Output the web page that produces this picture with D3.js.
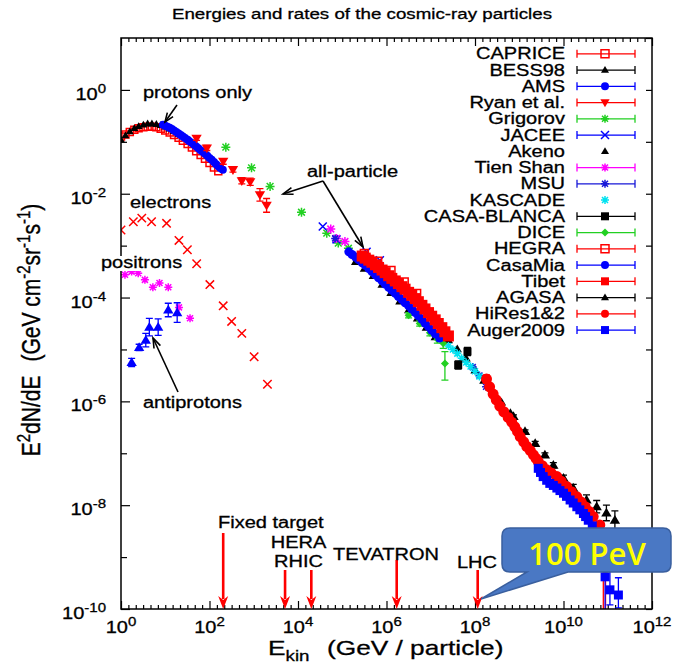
<!DOCTYPE html>
<meta charset="utf-8">
<style>
body { margin: 0; background: #fff; }
svg { display: block; }
text { font-family: "Liberation Sans", Arial, Helvetica, sans-serif; fill: #000; stroke: #000; stroke-width: 0.3px; }
</style>
<svg width="673" height="664"></svg>
<script src="https://d3js.org/d3.v7.min.js"></script>
<script>
// values: [E (GeV), E^2 dN/dE] , optional [.., low, high] for error bars

// protons
var caprice = [[1,0.126],[1.26,0.138],[1.58,0.155],[2,0.17],[2.5,0.182],[3.2,0.19],[4,0.195],[5,0.195],
  [6.3,0.19],[7.9,0.178],[10,0.166],[12.6,0.151],[15.8,0.135],[20,0.12],[25,0.105],[32,0.091],[40,0.078],
  [50,0.066],[63,0.056],[79,0.047],[100,0.039],[126,0.032],[158,0.027]];
var bess98 = [[1,0.11],[1.26,0.132],[1.58,0.158],[2,0.182],[2.5,0.2],[3.2,0.214],[4,0.224],[5,0.224],
  [6.3,0.219],[7.9,0.209],[10,0.195],[12.6,0.178],[15.8,0.16],[20,0.142]];
var ams = [[8.9,0.214],[10,0.204],[11.2,0.195],[12.6,0.186],[14.1,0.176],[15.8,0.166],[17.8,0.155],[20,0.145],
  [22.4,0.135],[25,0.126],[28,0.118],[32,0.11],[35,0.102],[40,0.095],[45,0.088],[50,0.081],[56,0.075],
  [63,0.069],[71,0.064],[79,0.059],[89,0.054],[100,0.049],[112,0.045],[126,0.041],[141,0.037],[158,0.034],
  [178,0.031],[200,0.029]];
var ryan = [[51,0.117,0.107,0.128],[87,0.076,0.068,0.085],[204,0.042,0.037,0.047],[339,0.029,0.026,0.033],
  [537,0.0178,0.0155,0.0204],[832,0.017,0.0145,0.020],[1380,0.0095,0.0072,0.0125],[1950,0.006,0.0044,0.0081]];

// all-particle
var grigorov = [[234,0.079],[891,0.0316],[2340,0.0138],[12000,0.0044],[44700,0.00174],[81300,0.00112],[138000,0.00089]];
var jacee = [[36300,0.00234],[74100,0.00132],[355000,0.00076],[708000,0.000525]];
var akeno = [[2e5,4.9e-4],[3.16e5,3.63e-4],[5.01e5,2.63e-4],[7.94e5,1.78e-4],[1.26e6,1.23e-4],[2e6,8.51e-5],
  [3.16e6,5.75e-5],[5.01e6,3.98e-5],[7.94e6,2.63e-5],[1.26e7,1.74e-5],
  [2.51e7,1.51e-5],[3.98e7,1.02e-5],[6.31e7,6.76e-6],[1e8,3.98e-6],[1.58e8,2.51e-6],
  [2.51e8,1.58e-6],[3.98e8,9.55e-7],[6.31e8,6.03e-7]];
var tienShan = [[55000,0.00209],[74100,0.00138],[115000,0.0012]];
var msu = [[69200,0.00138],[8.9e7,4.57e-6],[1.26e8,3.16e-6],[1.78e8,1.91e-6]];
var kascade = [[2.51e7,1.17e-5],[3.16e7,1e-5],[3.98e7,8.32e-6],[5.01e7,6.76e-6],[6.31e7,5.62e-6],
  [7.94e7,4.68e-6],[1e8,3.8e-6],[1.26e8,3.02e-6]];
var casaBlanca = [[4.17e7,5.01e-6,4.17e-6,6.03e-6],[6.76e7,9.12e-6,7.59e-6,1.1e-5]];
var dice = [[3.16e6,4.57e-5,4.07e-5,5.13e-5],[5.62e6,3.16e-5,2.82e-5,3.55e-5],[9.55e6,2.09e-5,1.82e-5,2.4e-5],
  [1.41e7,1.58e-5,1.32e-5,1.9e-5],[1.91e7,1.32e-5,1.05e-5,1.66e-5],[2.09e7,5.37e-6,2.57e-6,9.12e-6]];
var hegra = [[3.16e5,7.08e-4],[6.31e5,5.01e-4],[1.26e6,3.31e-4],[2.51e6,2.0e-4],[4.79e6,1.2e-4]];
var casaMia = [[1.41e5,7.59e-4],[1.66e5,6.76e-4],[2.0e5,6.03e-4],[2.34e5,5.37e-4],[2.82e5,4.68e-4],[3.31e5,4.17e-4],
  [3.98e5,3.63e-4],[4.68e5,3.16e-4],[5.62e5,2.75e-4],[6.61e5,2.4e-4],[7.94e5,2.09e-4],[9.33e5,1.82e-4],
  [1.12e6,1.58e-4],[1.32e6,1.38e-4],[1.58e6,1.2e-4],[1.86e6,1.05e-4],[2.24e6,9.12e-5],[2.63e6,7.94e-5],
  [3.16e6,6.92e-5],[3.72e6,6.03e-5],[4.47e6,5.13e-5],[5.25e6,4.47e-5],[6.31e6,3.8e-5],[7.41e6,3.24e-5],
  [8.91e6,2.75e-5],[1.05e7,2.34e-5],[1.26e7,2.0e-5],[1.58e7,1.66e-5]];
var tibet = [[2.82e5,6.31e-4],[3.31e5,5.75e-4],[3.98e5,5.25e-4],[4.68e5,4.79e-4],[5.62e5,4.27e-4],[6.61e5,3.8e-4],
  [7.94e5,3.39e-4],[9.33e5,3.02e-4],[1.12e6,2.63e-4],[1.32e6,2.34e-4],[1.58e6,2.09e-4],[1.86e6,1.86e-4],
  [2.24e6,1.62e-4],[2.63e6,1.45e-4],[3.16e6,1.26e-4],[3.72e6,1.1e-4],[4.47e6,9.55e-5],[5.25e6,8.32e-5],
  [6.31e6,7.08e-5],[7.41e6,6.03e-5],[8.91e6,5.13e-5],[1.05e7,4.37e-5],[1.26e7,3.72e-5],[1.48e7,3.16e-5],
  [1.78e7,2.63e-5],[2.09e7,2.19e-5],[2.51e7,1.82e-5]];
var agasa = [[7.41e8,5.13e-7,4.79e-7,5.5e-7],[1.35e9,2.63e-7,2.45e-7,2.82e-7],[2.29e9,1.55e-7,1.41e-7,1.7e-7],
  [3.8e9,9.33e-8,8.51e-8,1.02e-7],[5.89e9,5.89e-8,5.25e-8,6.61e-8],[1e10,3.31e-8,2.88e-8,3.8e-8],
  [1.66e10,2.14e-8,1.82e-8,2.51e-8],[3.31e10,1.26e-8,1e-8,1.58e-8],[5.62e10,9.33e-9,7.08e-9,1.23e-8],
  [9.33e10,7.08e-9,5.01e-9,1e-8],[1.45e11,5.13e-9,3.39e-9,7.76e-9]];
var hires = [[1.82e8,2.69e-6,2.24e-6,3.24e-6],[2.14e8,1.91e-6],[2.57e8,1.38e-6],[3.02e8,1.07e-6],[3.63e8,8.13e-7],
  [4.47e8,6.31e-7],[5.62e8,4.9e-7],[6.76e8,3.98e-7],[7.94e8,3.24e-7],[9.12e8,2.63e-7],[1.05e9,2.09e-7],
  [1.26e9,1.66e-7],[1.48e9,1.35e-7],[1.78e9,1.12e-7],[2.09e9,9.33e-8],[2.4e9,7.94e-8],[2.69e9,6.92e-8],
  [3.31e9,5.75e-8],[4.17e9,4.79e-8],[5.25e9,4.17e-8],
  [7.08e9,3.55e-8],[8.91e9,2.88e-8],[1.17e10,2.29e-8],[1.51e10,1.82e-8],[2e10,1.45e-8],[2.51e10,1.15e-8],
  [3.09e10,9.33e-9],[3.8e10,7.59e-9],[4.68e10,6.03e-9],[6.61e10,4.17e-9],
  [7.94e10,2.82e-9,1e-11,3.55e-9],[8.91e10,6.3e-10,1e-11,1.1e-9]];
var auger = [[2.69e9,5.13e-8],[3.02e9,4.27e-8],[3.47e9,3.55e-8],[4.17e9,3.02e-8],[4.9e9,2.63e-8],[5.89e9,2.4e-8],
  [7.08e9,2.14e-8],[8.32e9,1.91e-8],[1e10,1.7e-8],[1.17e10,1.48e-8],[1.41e10,1.26e-8],[1.66e10,1.1e-8],
  [2e10,9.33e-9],[2.34e10,8.13e-9],[2.82e10,6.92e-9],[3.16e10,6.03e-9],[3.63e10,5.13e-9],[4.47e10,3.98e-9],
  [8.71e10,4.17e-10,1e-11,1.2e-9],[1.12e11,2.34e-10,1.2e-10,5.6e-10],[1.74e11,1.86e-10,1.05e-10,4e-10]];

// other particles
var electrons = [[1,2.0e-3],[1.9,2.88e-3],[2.95,3.39e-3],[4.9,2.88e-3],[10.7,2.69e-3],[20.4,1.26e-3],
  [31.6,8.32e-4],[51.3,4.47e-4],[102,1.78e-4],[204,6.92e-5],[316,3.47e-5],[537,2.04e-5],[1020,7.24e-6],[2040,2.14e-6]];
var positrons = [[1.23,2.75e-4],[1.74,3.16e-4],[2.45,2.95e-4],[3.47,2.19e-4],[5.25,1.58e-4],[7.41,1.91e-4],
  [11.7,1.58e-4],[20.4,6.46e-5],[36.3,3.98e-5]];
var antiprotons = [[1.74,5.62e-6,4.68e-6,6.76e-6],[2.57,1.1e-5,9.55e-6,1.26e-5],[3.63,1.51e-5,1.12e-5,2.04e-5],
  [4.37,2.69e-5,1.82e-5,3.98e-5],[6.92,2.69e-5,1.86e-5,3.89e-5],[11.7,5.75e-5,4.27e-5,7.76e-5],[18.6,5.13e-5,3.31e-5,7.94e-5]];

// accelerators (equivalent fixed-target energy, GeV)
var accelNames = ["Fixed target", "HERA", "RHIC", "TEVATRON", "LHC"];
var accelE = [204, 5.1e3, 2.0e4, 1.7e6, 1.15e8];

var xMajor = [1, 1e2, 1e4, 1e6, 1e8, 1e10, 1e12];
var yMajor = [1, 1e-2, 1e-4, 1e-6, 1e-8, 1e-10];
var xExp = ["0", "2", "4", "6", "8", "10", "12"];
var yExp = ["0", "-2", "-4", "-6", "-8", "-10"];

var RED = "#ff0000", BLK = "#000000", BLU = "#0000ff", GRN = "#22d022", MAG = "#ff00ff", CYA = "#00e2f0";

var series = [
  {name: "CAPRICE", data: caprice, type: "osquare", color: RED, size: 3.5, bar: true},
  {name: "BESS98", data: bess98, type: "tri", color: BLK, size: 3.5, bar: true},
  {name: "AMS", data: ams, type: "circle", color: BLU, size: 4, bar: true},
  {name: "Ryan et al.", data: ryan, type: "itri", color: RED, size: 4.5, bar: true},
  {name: "Grigorov", data: grigorov, type: "star", color: GRN, size: 4.5, bar: true},
  {name: "JACEE", data: jacee, type: "x", color: BLU, size: 4, bar: true},
  {name: "Akeno", data: akeno, type: "tri", color: BLK, size: 4, bar: false},
  {name: "Tien Shan", data: tienShan, type: "star", color: MAG, size: 4.5, bar: true},
  {name: "MSU", data: msu, type: "star", color: "#1818d8", size: 4, bar: true},
  {name: "KASCADE", data: kascade, type: "star", color: CYA, size: 4, bar: false},
  {name: "CASA-BLANCA", data: casaBlanca, type: "square", color: BLK, size: 4, bar: true},
  {name: "DICE", data: dice, type: "diamond", color: GRN, size: 4, bar: true},
  {name: "HEGRA", data: hegra, type: "osquare", color: RED, size: 4, bar: true},
  {name: "CasaMia", data: casaMia, type: "circle", color: BLU, size: 4.5, bar: true},
  {name: "Tibet", data: tibet, type: "square", color: RED, size: 5.5, bar: true},
  {name: "AGASA", data: agasa, type: "tri", color: BLK, size: 4.5, bar: true},
  {name: "HiRes1&2", data: hires, type: "circle", color: RED, size: 5.5, bar: true},
  {name: "Auger2009", data: auger, type: "square", color: BLU, size: 4.5, bar: true}
];
var extra = [
  {data: electrons, type: "x", color: RED, size: 4.2},
  {data: positrons, type: "star", color: MAG, size: 4},
  {data: antiprotons, type: "tri", color: BLU, size: 4.5}
];

var svg = d3.select("svg");
var SX = 1.25;   // the original picture is stretched sideways
var L = 121, R = 652, T = 38, B = 609;
var x = d3.scaleLog().domain([1, 1e12]).range([L, R]);
var y = d3.scaleLog().domain([1e-10, 10]).range([B, T]);

function label(g, px, py, str, size, anchor) {
  return g.append("text")
    .attr("transform", "translate(" + px + "," + py + ") scale(" + SX + ",1)")
    .attr("font-size", size)
    .attr("text-anchor", anchor || "start")
    .text(str);
}

function shape(type, s) {
  switch (type) {
    case "circle": return d3.symbol(d3.symbolCircle, Math.PI * s * s)();
    case "square":
    case "osquare": return "M" + (-s) + "," + (-s) + "h" + 2 * s + "v" + 2 * s + "h" + (-2 * s) + "Z";
    case "tri": return "M0," + (-1.15 * s) + "L" + (1.15 * s) + "," + (0.8 * s) + "L" + (-1.15 * s) + "," + (0.8 * s) + "Z";
    case "itri": return "M0," + (1.15 * s) + "L" + (1.15 * s) + "," + (-0.8 * s) + "L" + (-1.15 * s) + "," + (-0.8 * s) + "Z";
    case "diamond": return "M0," + (-s) + "L" + s + ",0L0," + s + "L" + (-s) + ",0Z";
    case "x": return "M" + (-s) + "," + (-s) + "L" + s + "," + s + "M" + (-s) + "," + s + "L" + s + "," + (-s);
    case "star":
      var k = 0.75 * s;
      return "M" + (-s) + ",0H" + s + "M0," + (-s) + "V" + s +
        "M" + (-k) + "," + (-k) + "L" + k + "," + k + "M" + (-k) + "," + k + "L" + k + "," + (-k);
  }
}

function paint(sel, st) {
  var open = st.type === "x" || st.type === "star" || st.type === "osquare";
  sel.attr("d", shape(st.type, st.size))
    .attr("fill", open ? "none" : st.color)
    .attr("stroke", open ? st.color : "none")
    .attr("stroke-width", 1.5);
}

function drawSeries(g, st) {
  var s = g.append("g");
  s.selectAll("path.bar")
    .data(st.data.filter(function(d) { return d.length > 2; }))
    .join("path").attr("class", "bar")
    .attr("d", function(d) {
      var px = x(d[0]), lo = y(d[2]), hi = y(d[3]);
      return "M" + (px - 3.5) + "," + lo + "h7M" + px + "," + lo + "V" + hi + "M" + (px - 3.5) + "," + hi + "h7";
    })
    .attr("fill", "none").attr("stroke", st.color).attr("stroke-width", 1.3);
  s.selectAll("path.pt")
    .data(st.data)
    .join("path").attr("class", "pt")
    .attr("transform", function(d) { return "translate(" + x(d[0]) + "," + y(d[1]) + ")"; })
    .call(paint, st);
}

// ---- axes ----
var xMinor = d3.range(0, 73).filter(function(k) { return k % 12; }).map(function(k) { return Math.pow(10, k / 6); });
var yAll = d3.range(-10, 2).map(function(k) { return Math.pow(10, k); });
var yMinor = d3.range(-9, 1, 2).map(function(k) { return Math.pow(10, k); });

function axis(a, vals, size, tr) {
  var g = svg.append("g").attr("transform", tr)
    .call(a.tickValues(vals).tickSizeInner(-size).tickSizeOuter(0).tickFormat(""));
  g.select(".domain").remove();
  g.selectAll(".tick text").remove();
  g.selectAll(".tick line").attr("stroke-width", 1.2);
  return g;
}
axis(d3.axisBottom(x), xMinor, 4, "translate(0," + B + ")");
axis(d3.axisTop(x), xMinor, 4, "translate(0," + T + ")");
axis(d3.axisBottom(x), xMajor, 8, "translate(0," + B + ")");
axis(d3.axisTop(x), xMajor, 8, "translate(0," + T + ")");
axis(d3.axisLeft(y), yMajor, 9, "translate(" + L + ",0)");
axis(d3.axisLeft(y), yMinor, 6, "translate(" + L + ",0)");
axis(d3.axisRight(y), yAll, 6, "translate(" + R + ",0)");

function powLabel(px, py, e, anchor) {
  var t = svg.append("text")
    .attr("transform", "translate(" + px + "," + py + ") scale(" + SX + ",1)")
    .attr("text-anchor", anchor).attr("font-size", 16);
  t.append("tspan").text("10");
  t.append("tspan").attr("font-size", 12).attr("dy", -7).text(e);
}
xMajor.forEach(function(v, i) { powLabel(x(v), 633, xExp[i], "middle"); });
yMajor.forEach(function(v, i) { powLabel(106, y(v) + 10, yExp[i], "end"); });

// ---- data ----
svg.append("clipPath").attr("id", "clip").append("rect")
  .attr("x", L).attr("y", T).attr("width", R - L).attr("height", B - T);
var plot = svg.append("g").attr("clip-path", "url(#clip)");
extra.forEach(function(st) { drawSeries(plot, st); });
series.forEach(function(st) { drawSeries(plot, st); });

// frame
svg.append("rect").attr("x", L).attr("y", T).attr("width", R - L).attr("height", B - T)
  .attr("fill", "none").attr("stroke", "#000").attr("stroke-width", 1.5);

// ---- legend ----
var leg = svg.append("g");
series.forEach(function(st, i) {
  var ly = 53.8 + i * 16.25;
  label(leg, 565, ly + 5.5, st.name, 16, "end");
  if (st.bar) {
    leg.append("path")
      .attr("d", "M577," + ly + "H635M577," + (ly - 4) + "V" + (ly + 4) + "M635," + (ly - 4) + "V" + (ly + 4))
      .attr("stroke", st.color).attr("stroke-width", 1.3).attr("fill", "none");
  }
  leg.append("path").attr("transform", "translate(605," + ly + ")")
    .call(paint, {type: st.type, color: st.color, size: st.type === "tri" ? 3.5 : 4});
});

// ---- annotations ----
function arrow(g, x1, y1, x2, y2, color, w, hl, hw, filled) {
  var dx = x2 - x1, dy = y2 - y1, len = Math.sqrt(dx * dx + dy * dy), ux = dx / len, uy = dy / len;
  var bx = x2 - ux * hl, by = y2 - uy * hl;
  g.append("line").attr("x1", x1).attr("y1", y1)
    .attr("x2", filled ? bx + ux * 3 : x2).attr("y2", filled ? by + uy * 3 : y2)
    .attr("stroke", color).attr("stroke-width", w);
  var head = "M" + (bx - uy * hw) + "," + (by + ux * hw) + "L" + x2 + "," + y2 + "L" + (bx + uy * hw) + "," + (by - ux * hw);
  if (filled) {
    g.append("path").attr("d", head + "L" + (bx + ux * hl * 0.3) + "," + (by + uy * hl * 0.3) + "Z").attr("fill", color);
  } else {
    g.append("path").attr("d", head).attr("fill", "none").attr("stroke", color).attr("stroke-width", w);
  }
}
var ann = svg.append("g");
label(ann, 143, 98, "protons only", 16);
arrow(ann, 177, 105, 165, 122, "#000", 1.6, 9, 3.5, false);
label(ann, 130, 208, "electrons", 16);
ann.append("rect").attr("x", 101).attr("y", 256).attr("width", 78).attr("height", 15).attr("fill", "#fff");
label(ann, 101, 268, "positrons", 16);
label(ann, 143, 408, "antiprotons", 16);
arrow(ann, 178, 392, 153, 338, "#000", 1.6, 10, 3.5, false);
label(ann, 307, 177, "all-particle", 16);
arrow(ann, 323, 181, 283, 194, "#000", 1.6, 10, 3.5, false);
arrow(ann, 323, 181, 363, 247, "#000", 1.6, 10, 3.5, false);

var accelTop = [533, 570, 570, 560, 570];
accelE.forEach(function(e, i) { arrow(ann, x(e), accelTop[i], x(e), B, RED, 2.6, 13, 5, true); });
label(ann, 218, 528, accelNames[0], 16);
label(ann, 298.5, 548, accelNames[1], 16, "middle");
label(ann, 298.5, 567, accelNames[2], 16, "middle");
label(ann, 333, 560, accelNames[3], 16);
label(ann, 457, 568, accelNames[4], 16);

// axis titles
var xt = svg.append("text").attr("transform", "translate(268,655) scale(" + SX + ",1)").attr("font-size", 21);
xt.append("tspan").text("E");
xt.append("tspan").attr("font-size", 15).attr("dy", 6).text("kin");
xt.append("tspan").attr("dy", -6).attr("dx", 14).text("(GeV / particle)");

var yt = svg.append("text").attr("transform", "translate(40,330) scale(" + SX + ",1) rotate(-90)")
  .attr("font-size", 21).attr("text-anchor", "middle");
yt.append("tspan").text("E");
yt.append("tspan").attr("font-size", 15).attr("dy", -8).text("2");
yt.append("tspan").attr("dy", 8).text("dN/dE");
yt.append("tspan").attr("dx", 14).text("(GeV cm");
yt.append("tspan").attr("font-size", 15).attr("dy", -8).text("-2");
yt.append("tspan").attr("dy", 8).text("sr");
yt.append("tspan").attr("font-size", 15).attr("dy", -8).text("-1");
yt.append("tspan").attr("dy", 8).text("s");
yt.append("tspan").attr("font-size", 15).attr("dy", -8).text("-1");
yt.append("tspan").attr("dy", 8).text(")");

// title
label(svg, 362, 19, "Energies and rates of the cosmic-ray particles", 15, "middle");

// callout
var c = {l: 502, t: 528, r: 671, b: 572, rad: 8};
svg.append("path")
  .attr("d", "M" + (c.l + c.rad) + "," + c.t + "H" + (c.r - c.rad) + "Q" + c.r + "," + c.t + " " + c.r + "," + (c.t + c.rad) +
    "V" + (c.b - c.rad) + "Q" + c.r + "," + c.b + " " + (c.r - c.rad) + "," + c.b +
    "H568L481,599L527," + c.b + "H" + (c.l + c.rad) + "Q" + c.l + "," + c.b + " " + c.l + "," + (c.b - c.rad) +
    "V" + (c.t + c.rad) + "Q" + c.l + "," + c.t + " " + (c.l + c.rad) + "," + c.t + "Z")
  .attr("fill", "#4a78c4").attr("stroke", "#3a5f9e").attr("stroke-width", 1.5);
svg.append("text").attr("x", 587).attr("y", 565).attr("text-anchor", "middle")
  .style("font-family", "'Open Sans', sans-serif").attr("font-weight", 600).attr("font-size", 31)
  .style("fill", "#ffff00").style("stroke", "none").text("100 PeV");
</script>
